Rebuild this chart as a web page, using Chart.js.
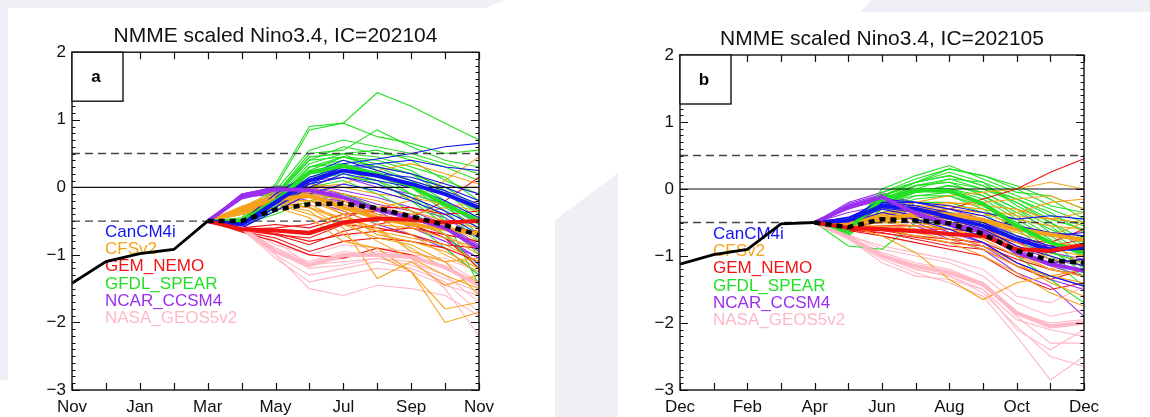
<!DOCTYPE html>
<html>
<head>
<meta charset="utf-8">
<script src="https://cdn.jsdelivr.net/npm/chart.js@4.4.0/dist/chart.umd.min.js"></script>
<style>
  body { margin: 0; width: 1150px; height: 417px; background: #fff; position: relative; overflow: hidden; }
  .bg { position: absolute; background: #eef0f5; }
  .panel { position: absolute; top: 0; width: 560px; height: 417px; }
</style>
</head>
<body>
<div class="bg" style="left:0;top:0;width:8px;height:380px"></div>
<div class="bg" style="left:0;top:0;width:505px;height:8px;clip-path:polygon(0 0,100% 0,96% 100%,0 100%)"></div>
<div class="bg" style="left:860px;top:0;width:290px;height:12px;clip-path:polygon(4% 0,100% 0,100% 100%,0 100%)"></div>
<div class="bg" style="left:555px;top:173px;width:63px;height:244px;clip-path:polygon(0 47px,100% 0,100% 100%,0 100%)"></div>
<div class="panel" style="left:0"><canvas id="chartA" width="560" height="417"></canvas></div>
<div class="panel" style="left:590px"><canvas id="chartB" width="560" height="417"></canvas></div>
<script>
const FONT = '"Liberation Sans", Arial, Helvetica, sans-serif';

const modelNames = ['CanCM4i', 'CFSv2', 'GEM_NEMO', 'GFDL_SPEAR', 'NCAR_CCSM4', 'NASA_GEOS5v2'];
const modelColors = ['#1414f0', '#f7a21b', '#f01414', '#24e024', '#9b2ff0', '#ffb8c6'];
const refLevels = [-0.5, 0, 0.5];

// ---- panel a : IC=202104 ----
const monthsA = ['Nov', 'Dec', 'Jan', 'Feb', 'Mar', 'Apr', 'May', 'Jun', 'Jul', 'Aug', 'Sep', 'Oct', 'Nov'];
const obsA = [-1.42, -1.1, -0.98, -0.92, -0.5];
const nmmeA = [-0.5, -0.5, -0.33, -0.25, -0.24, -0.31, -0.43, -0.56, -0.71];

const canMeanA = [-0.5, -0.55, -0.22, 0.1, 0.25, 0.17, 0.05, -0.1, -0.3];
const cfsMeanA = [-0.5, -0.33, -0.18, -0.12, -0.3, -0.45, -0.55, -0.62, -0.68];
const gemMeanA = [-0.5, -0.62, -0.64, -0.68, -0.52, -0.46, -0.48, -0.52, -0.5];
const gfdlMeanA = [-0.5, -0.5, -0.2, 0.22, 0.32, 0.2, 0.02, -0.25, -0.5];
const ncarMeanA = [-0.5, -0.15, -0.03, -0.04, -0.15, -0.33, -0.45, -0.6, -0.9];
const nasaMeanA = [-0.5, -0.6, -0.95, -1.15, -1.0, -1.0, -1.03, -1.18, -1.45];

const canMembersA = [
  [-0.5, -0.5, -0.1, 0.2, 0.35, 0.42, 0.5, 0.6, 0.65],
  [-0.5, -0.6, -0.3, 0.0, 0.2, 0.1, 0.0, -0.2, -0.45],
  [-0.5, -0.55, -0.2, 0.15, 0.3, 0.3, 0.2, 0.05, -0.1],
  [-0.5, -0.6, -0.35, -0.1, 0.05, -0.05, -0.2, -0.4, -0.7],
  [-0.5, -0.52, -0.15, 0.2, 0.4, 0.25, 0.1, -0.05, -0.25],
  [-0.5, -0.58, -0.25, 0.05, 0.15, 0.05, -0.15, -0.35, -0.6],
  [-0.5, -0.56, -0.3, 0.05, 0.25, 0.2, 0.15, 0.0, -0.2],
  [-0.5, -0.54, -0.2, 0.1, 0.3, 0.35, 0.4, 0.3, 0.25]
];
const cfsMembersA = [
  [-0.5, -0.3, -0.1, 0.0, -0.15, -0.3, -0.2, 0.1, 0.45],
  [-0.5, -0.35, -0.2, -0.25, -0.5, -0.8, -1.05, -1.3, -1.5],
  [-0.5, -0.3, -0.15, -0.05, -0.2, -0.45, -0.7, -1.0, -1.25],
  [-0.5, -0.4, -0.25, -0.35, -0.7, -1.0, -1.25, -2.0, -1.85],
  [-0.5, -0.3, -0.05, 0.05, -0.1, -0.2, -0.35, -0.5, -0.6],
  [-0.5, -0.35, -0.2, -0.3, -0.6, -1.35, -1.1, -1.45, -1.3],
  [-0.5, -0.28, -0.12, 0.0, 0.05, 0.25, 0.35, 0.2, 0.05],
  [-0.5, -0.38, -0.25, -0.4, -0.55, -0.75, -0.85, -1.1, -1.05],
  [-0.5, -0.32, -0.1, -0.1, -0.35, -0.55, -0.6, -0.75, -0.9],
  [-0.5, -0.4, -0.3, -0.45, -0.8, -0.9, -1.25, -1.8, -1.7],
  [-0.5, -0.3, -0.18, -0.2, -0.3, -0.35, -0.45, -0.55, -0.8],
  [-0.5, -0.35, -0.22, -0.15, -0.4, -0.65, -0.9, -1.2, -1.4],
  [-0.5, -0.33, -0.15, -0.1, -0.25, -0.4, -0.5, -0.7, -1.0],
  [-0.5, -0.37, -0.22, -0.3, -0.45, -0.6, -0.95, -1.1, -1.6],
  [-0.5, -0.3, -0.1, 0.05, 0.0, -0.1, -0.15, -0.25, -0.35],
  [-0.5, -0.34, -0.2, -0.2, -0.4, -0.7, -0.8, -0.95, -1.2],
  [-0.5, -0.36, -0.25, -0.3, -0.5, -0.65, -0.75, -0.85, -1.1],
  [-0.5, -0.31, -0.12, -0.08, -0.2, -0.3, -0.4, -0.3, -0.2]
];
const gemMembersA = [
  [-0.5, -0.6, -0.7, -0.85, -0.65, -0.55, -0.45, -0.2, 0.15],
  [-0.5, -0.65, -0.75, -0.95, -0.8, -0.75, -0.8, -0.9, -1.1],
  [-0.5, -0.62, -0.6, -0.55, -0.4, -0.35, -0.45, -0.6, -0.65],
  [-0.5, -0.66, -0.8, -1.0, -1.05, -0.9, -1.0, -1.2, -1.45],
  [-0.5, -0.6, -0.55, -0.6, -0.45, -0.3, -0.3, -0.4, -0.35],
  [-0.5, -0.64, -0.7, -0.75, -0.55, -0.6, -0.7, -0.85, -0.9],
  [-0.5, -0.63, -0.68, -0.8, -0.7, -0.65, -0.6, -0.7, -0.8],
  [-0.5, -0.61, -0.62, -0.65, -0.5, -0.45, -0.55, -0.75, -1.2]
];
const gfdlMembersA = [
  [-0.5, -0.45, 0.05, 0.9, 0.95, 1.4, 1.2, 0.95, 0.7],
  [-0.5, -0.5, 0.0, 0.85, 0.95, 0.75, 0.65, 0.5, 0.55],
  [-0.5, -0.48, -0.1, 0.5, 0.55, 0.85, 0.6, 0.4, 0.3],
  [-0.5, -0.5, -0.15, 0.45, 0.5, 0.45, 0.3, 0.15, -0.2],
  [-0.5, -0.52, -0.2, 0.3, 0.4, 0.3, 0.1, -0.2, -0.55],
  [-0.5, -0.5, -0.25, 0.2, 0.3, 0.15, 0.0, -0.35, -0.8],
  [-0.5, -0.55, -0.3, 0.1, 0.2, 0.05, -0.15, -0.5, -1.0],
  [-0.5, -0.5, -0.2, 0.25, 0.45, 0.35, 0.2, -0.1, -0.35],
  [-0.5, -0.53, -0.35, 0.0, 0.1, -0.1, -0.35, -0.7, -1.2],
  [-0.5, -0.5, -0.28, 0.15, 0.25, 0.2, -0.1, -0.45, -1.45],
  [-0.5, -0.47, -0.1, 0.4, 0.6, 0.5, 0.45, 0.3, 0.1],
  [-0.5, -0.5, -0.25, 0.3, 0.35, 0.2, 0.05, -0.3, -0.6],
  [-0.5, -0.55, -0.4, -0.2, -0.1, -0.3, -0.5, -0.9, -1.3],
  [-0.5, -0.5, -0.18, 0.35, 0.5, 0.25, 0.1, -0.05, -0.4],
  [-0.5, -0.48, -0.05, 0.55, 0.7, 0.6, 0.5, 0.35, 0.2],
  [-0.5, -0.5, -0.15, 0.4, 0.45, 0.3, 0.2, 0.0, -0.3],
  [-0.5, -0.52, -0.22, 0.3, 0.45, 0.4, 0.25, -0.05, -0.5],
  [-0.5, -0.49, -0.1, 0.45, 0.5, 0.55, 0.4, 0.1, -0.1],
  [-0.5, -0.51, -0.3, 0.05, 0.15, 0.1, -0.2, -0.55, -0.9],
  [-0.5, -0.5, -0.2, 0.2, 0.25, 0.1, -0.1, -0.25, -0.7]
];
const ncarMembersA = [
  [-0.5, -0.1, 0.0, 0.05, -0.05, -0.15, -0.3, -0.45, -0.75],
  [-0.5, -0.15, -0.05, -0.1, -0.25, -0.45, -0.55, -0.75, -1.05],
  [-0.5, -0.1, 0.0, 0.1, 0.15, 0.0, -0.1, -0.25, -0.55],
  [-0.5, -0.15, -0.1, -0.2, -0.35, -0.55, -0.7, -0.9, -1.3],
  [-0.5, -0.12, 0.02, 0.0, -0.1, -0.3, -0.4, -0.6, -0.95],
  [-0.5, -0.14, -0.08, -0.15, -0.2, -0.4, -0.5, -0.7, -1.15],
  [-0.5, -0.11, -0.02, -0.05, -0.1, -0.25, -0.35, -0.55, -0.85],
  [-0.5, -0.13, -0.06, -0.08, -0.2, -0.35, -0.6, -0.8, -1.05]
];
const nasaMembersA = [
  [-0.5, -0.6, -0.95, -1.2, -1.15, -1.05, -1.1, -1.3, -1.7],
  [-0.5, -0.62, -1.0, -1.5, -1.6, -1.45, -1.5, -1.6, -1.9],
  [-0.5, -0.58, -0.85, -1.0, -0.85, -0.9, -0.95, -1.1, -1.4],
  [-0.5, -0.6, -0.9, -1.1, -0.95, -1.0, -1.05, -1.5, -2.2],
  [-0.5, -0.55, -0.8, -1.15, -1.05, -0.95, -1.0, -1.05, -1.25],
  [-0.5, -0.62, -1.05, -1.4, -1.3, -1.2, -1.25, -1.45, -1.6],
  [-0.5, -0.59, -0.9, -1.15, -1.1, -1.05, -1.15, -1.35, -1.55],
  [-0.5, -0.61, -1.0, -1.3, -1.2, -1.1, -1.2, -1.4, -1.85]
];

// ---- panel b : IC=202105 ----
const monthsB = ['Dec', 'Jan', 'Feb', 'Mar', 'Apr', 'May', 'Jun', 'Jul', 'Aug', 'Sep', 'Oct', 'Nov', 'Dec'];
const obsB = [-1.12, -0.98, -0.9, -0.52, -0.5];
const nmmeB = [-0.5, -0.57, -0.45, -0.47, -0.51, -0.67, -0.92, -1.07, -1.1];

const canMeanB = [-0.5, -0.47, -0.25, -0.3, -0.42, -0.55, -0.75, -0.9, -0.88];
const cfsMeanB = [-0.5, -0.52, -0.45, -0.38, -0.38, -0.46, -0.6, -0.68, -0.76];
const gemMeanB = [-0.5, -0.58, -0.6, -0.63, -0.67, -0.7, -0.9, -0.92, -0.83];
const gfdlMeanB = [-0.5, -0.6, -0.15, -0.02, -0.03, -0.22, -0.55, -0.8, -0.95];
const ncarMeanB = [-0.5, -0.27, -0.12, -0.36, -0.52, -0.64, -0.95, -1.12, -1.22];
const nasaMeanB = [-0.5, -0.72, -1.0, -1.15, -1.25, -1.42, -1.85, -2.05, -2.0];

const canMembersB = [
  [-0.5, -0.45, -0.15, -0.2, -0.3, -0.4, -0.6, -0.7, -0.65],
  [-0.5, -0.5, -0.3, -0.4, -0.55, -0.7, -0.95, -1.1, -1.05],
  [-0.5, -0.42, -0.2, -0.25, -0.35, -0.5, -0.75, -0.95, -0.85],
  [-0.5, -0.5, -0.35, -0.45, -0.6, -0.8, -1.1, -1.3, -1.45],
  [-0.5, -0.45, -0.2, -0.2, -0.25, -0.35, -0.45, -0.4, -0.45],
  [-0.5, -0.48, -0.28, -0.35, -0.45, -0.6, -0.85, -1.0, -1.15],
  [-0.5, -0.47, -0.25, -0.3, -0.4, -0.5, -0.7, -0.85, -0.95],
  [-0.5, -0.43, -0.22, -0.28, -0.38, -0.45, -0.55, -0.65, -0.7]
];
const cfsMembersB = [
  [-0.5, -0.45, -0.3, -0.2, -0.1, -0.05, 0.0, 0.1, 0.0],
  [-0.5, -0.55, -0.7, -0.95, -1.35, -1.65, -1.4, -1.3, -1.2],
  [-0.5, -0.5, -0.4, -0.3, -0.25, -0.3, -0.4, -0.45, -0.5],
  [-0.5, -0.52, -0.5, -0.55, -0.6, -0.7, -0.95, -1.2, -1.3],
  [-0.5, -0.48, -0.35, -0.25, -0.2, -0.25, -0.3, -0.45, -0.35],
  [-0.5, -0.55, -0.55, -0.6, -0.7, -0.85, -1.1, -1.4, -1.6],
  [-0.5, -0.5, -0.45, -0.4, -0.35, -0.4, -0.35, -0.2, -0.15],
  [-0.5, -0.53, -0.45, -0.45, -0.5, -0.55, -0.75, -0.9, -1.0],
  [-0.5, -0.5, -0.38, -0.3, -0.3, -0.35, -0.55, -0.65, -0.7],
  [-0.5, -0.55, -0.6, -0.7, -0.8, -1.0, -1.25, -1.55, -1.75],
  [-0.5, -0.47, -0.4, -0.35, -0.4, -0.5, -0.65, -0.8, -0.85],
  [-0.5, -0.52, -0.42, -0.38, -0.45, -0.6, -0.8, -1.05, -1.1],
  [-0.5, -0.5, -0.4, -0.35, -0.3, -0.35, -0.45, -0.55, -0.6],
  [-0.5, -0.54, -0.5, -0.5, -0.55, -0.65, -0.85, -1.0, -1.15],
  [-0.5, -0.49, -0.36, -0.28, -0.22, -0.2, -0.15, -0.1, -0.3],
  [-0.5, -0.56, -0.6, -0.65, -0.75, -0.9, -1.15, -1.3, -1.4],
  [-0.5, -0.51, -0.44, -0.42, -0.45, -0.5, -0.6, -0.7, -0.5],
  [-0.5, -0.53, -0.48, -0.5, -0.6, -0.75, -1.0, -1.2, -0.95]
];
const gemMembersB = [
  [-0.5, -0.55, -0.5, -0.4, -0.3, -0.15, 0.0, 0.25, 0.45],
  [-0.5, -0.6, -0.65, -0.75, -0.85, -0.9, -1.15, -1.35, -1.2],
  [-0.5, -0.58, -0.6, -0.6, -0.6, -0.65, -0.8, -0.85, -0.75],
  [-0.5, -0.62, -0.7, -0.8, -0.9, -1.0, -1.3, -1.5, -1.4],
  [-0.5, -0.57, -0.55, -0.55, -0.6, -0.6, -0.75, -0.8, -0.6],
  [-0.5, -0.6, -0.62, -0.7, -0.75, -0.8, -1.0, -1.1, -1.05],
  [-0.5, -0.59, -0.58, -0.6, -0.65, -0.7, -0.9, -0.95, -0.85],
  [-0.5, -0.61, -0.66, -0.72, -0.8, -0.85, -1.05, -1.2, -1.3]
];
const gfdlMembersB = [
  [-0.5, -0.65, 0.0, 0.2, 0.35, 0.15, -0.05, -0.1, -0.3],
  [-0.5, -0.6, -0.05, 0.15, 0.3, 0.2, 0.0, -0.25, -0.35],
  [-0.5, -0.55, -0.1, 0.1, 0.2, 0.05, -0.2, -0.45, -0.6],
  [-0.5, -0.62, -0.2, 0.05, 0.1, -0.1, -0.35, -0.6, -0.8],
  [-0.5, -0.7, -0.3, -0.1, -0.05, -0.2, -0.5, -0.8, -1.0],
  [-0.5, -0.6, -0.15, 0.0, 0.0, -0.15, -0.45, -0.75, -1.2],
  [-0.5, -0.58, -0.25, -0.05, 0.05, -0.05, -0.3, -0.55, -0.9],
  [-0.5, -0.85, -0.9, -0.5, -0.35, -0.45, -0.75, -1.05, -1.45],
  [-0.5, -0.65, -0.35, -0.2, -0.2, -0.35, -0.7, -1.0, -1.3],
  [-0.5, -0.55, -0.1, 0.05, 0.15, 0.0, -0.15, -0.4, -0.55],
  [-0.5, -0.6, -0.2, -0.1, -0.1, -0.3, -0.6, -0.95, -1.1],
  [-0.5, -0.62, -0.12, 0.1, 0.25, 0.1, -0.25, -0.5, -0.75],
  [-0.5, -0.68, -0.4, -0.3, -0.35, -0.55, -1.0, -1.35, -1.7],
  [-0.5, -0.57, -0.18, -0.05, 0.0, -0.1, -0.4, -0.7, -1.0],
  [-0.5, -0.6, -0.05, 0.1, 0.3, 0.2, 0.05, -0.15, -0.45],
  [-0.5, -0.58, -0.1, 0.1, 0.2, 0.05, -0.15, -0.35, -0.65],
  [-0.5, -0.63, -0.2, -0.05, 0.05, -0.05, -0.3, -0.65, -0.95],
  [-0.5, -0.61, -0.25, 0.0, 0.15, 0.1, -0.1, -0.3, -0.5],
  [-0.5, -0.66, -0.3, -0.15, -0.1, -0.25, -0.55, -0.9, -1.25],
  [-0.5, -0.59, -0.15, 0.05, 0.1, 0.0, -0.2, -0.5, -0.85]
];
const ncarMembersB = [
  [-0.5, -0.2, -0.05, -0.25, -0.4, -0.5, -0.8, -0.95, -1.05],
  [-0.5, -0.3, -0.15, -0.45, -0.65, -0.8, -1.1, -1.3, -1.45],
  [-0.5, -0.25, -0.1, -0.3, -0.45, -0.55, -0.9, -1.1, -1.25],
  [-0.5, -0.35, -0.25, -0.55, -0.75, -0.9, -1.25, -1.45, -1.9],
  [-0.5, -0.22, -0.08, -0.2, -0.3, -0.45, -0.7, -0.85, -0.95],
  [-0.5, -0.28, -0.18, -0.5, -0.7, -0.85, -1.15, -1.35, -1.5],
  [-0.5, -0.26, -0.12, -0.35, -0.55, -0.65, -0.95, -1.15, -1.3],
  [-0.5, -0.24, -0.1, -0.28, -0.5, -0.6, -0.85, -1.05, -1.15]
];
const nasaMembersB = [
  [-0.5, -0.7, -0.95, -1.1, -1.2, -1.4, -1.9, -2.3, -2.3],
  [-0.5, -0.75, -1.05, -1.25, -1.4, -1.6, -2.2, -2.85, -2.5],
  [-0.5, -0.68, -0.9, -1.0, -1.1, -1.3, -1.7, -1.9, -1.8],
  [-0.5, -0.72, -1.0, -1.2, -1.3, -1.55, -2.05, -2.5, -2.65],
  [-0.5, -0.7, -0.85, -0.95, -1.05, -1.2, -1.6, -1.7, -1.45],
  [-0.5, -0.74, -1.1, -1.3, -1.35, -1.5, -1.95, -2.1, -2.2],
  [-0.5, -0.71, -0.98, -1.15, -1.25, -1.45, -1.85, -2.0, -1.95],
  [-0.5, -0.73, -1.02, -1.2, -1.3, -1.5, -2.1, -2.4, -2.1]
];

const FORECAST_START = 4; // forecast lines start at the last observed month

function pad(values, start) {
  return Array(start).fill(null).concat(values);
}

function toMinus(v) {
  return String(v).replace('-', '\u2212');
}

// draw order of the thick model means (last one on top)
const meanOrder = [5, 1, 3, 0, 4, 2];

function buildDatasets(months, obs, nmme, means, members) {
  const ds = [];
  members.forEach((group, m) => {
    group.forEach(vals => {
      ds.push({
        data: pad(vals, FORECAST_START),
        borderColor: modelColors[m],
        borderWidth: 1.1,
        order: 50
      });
    });
  });
  refLevels.forEach(level => {
    ds.push({
      data: months.map(() => level),
      borderColor: level === 0 ? '#111' : '#444',
      borderWidth: level === 0 ? 1.2 : 1.4,
      borderDash: level === 0 ? [] : [8, 5],
      order: 40
    });
  });
  meanOrder.forEach((m, k) => {
    ds.push({
      data: pad(means[m], FORECAST_START),
      borderColor: modelColors[m],
      borderWidth: 4,
      order: 30 - k
    });
  });
  ds.push({ data: pad(nmme, FORECAST_START), borderColor: '#000', borderWidth: 4.5, borderDash: [6, 5], order: 3 });
  ds.push({ data: obs, borderColor: '#000', borderWidth: 2.8, order: 2 });
  return ds;
}

const framePlugin = {
  id: 'frame',
  beforeDatasetsDraw(chart, args, opts) {
    const ctx = chart.ctx, a = chart.chartArea;
    ctx.save();
    ctx.font = '17px ' + FONT;
    ctx.textBaseline = 'middle';
    ctx.textAlign = 'left';
    modelNames.forEach((name, i) => {
      ctx.fillStyle = modelColors[i];
      ctx.fillText(name, a.left + opts.legendX, a.top + opts.legendY + i * 17.3);
    });
    ctx.restore();
  },
  afterDatasetsDraw(chart, args, opts) {
    const ctx = chart.ctx, a = chart.chartArea;
    const xs = chart.scales.x, ys = chart.scales.y;
    ctx.save();
    ctx.strokeStyle = '#111';
    ctx.lineWidth = 1.2;
    ctx.beginPath();
    chart.data.labels.forEach((l, i) => {
      const x = Math.round(xs.getPixelForValue(i)) + 0.5;
      ctx.moveTo(x, a.bottom); ctx.lineTo(x, a.bottom - 7);
      ctx.moveTo(x, a.top); ctx.lineTo(x, a.top + 7);
    });
    for (let k = ys.min * 10; k <= ys.max * 10; k++) {
      const y = Math.round(ys.getPixelForValue(k / 10)) + 0.5;
      const len = k % 10 === 0 ? 8 : 3.5;
      ctx.moveTo(a.left, y); ctx.lineTo(a.left + len, y);
      ctx.moveTo(a.right, y); ctx.lineTo(a.right - len, y);
    }
    ctx.stroke();
    ctx.lineWidth = 1.4;
    ctx.strokeRect(a.left, a.top, a.right - a.left, a.bottom - a.top);
    // panel letter box
    ctx.fillStyle = '#fff';
    ctx.fillRect(a.left, a.top, 51, 49);
    ctx.strokeRect(a.left, a.top, 51, 49);
    ctx.fillStyle = '#000';
    ctx.font = 'bold 17px ' + FONT;
    ctx.textAlign = 'center';
    ctx.textBaseline = 'middle';
    ctx.fillText(opts.letter, a.left + 24, a.top + 25);
    ctx.restore();
  }
};

function makeChart(id, cfg) {
  return new Chart(document.getElementById(id), {
    type: 'line',
    data: {
      labels: cfg.months,
      datasets: buildDatasets(cfg.months, cfg.obs, cfg.nmme, cfg.means, cfg.members)
    },
    plugins: [framePlugin],
    options: {
      responsive: false,
      animation: false,
      events: [],
      elements: { point: { radius: 0 }, line: { tension: 0, borderCapStyle: 'butt' } },
      layout: { padding: { left: 0, right: cfg.padRight, top: 0, bottom: 0 } },
      plugins: {
        legend: { display: false },
        tooltip: { enabled: false },
        title: {
          display: true,
          fullSize: false,
          text: cfg.title,
          color: '#111',
          font: { family: FONT, size: 21, weight: 'normal', lineHeight: 1.2 },
          padding: { top: cfg.titleTop, bottom: cfg.titleBottom }
        },
        frame: { letter: cfg.letter, legendX: 33, legendY: cfg.legendY }
      },
      scales: {
        x: {
          grid: { display: false, drawTicks: false },
          border: { display: false },
          afterFit: s => { s.height = 27; },
          ticks: {
            autoSkip: false,
            maxRotation: 0,
            padding: 7,
            color: '#111',
            font: { family: FONT, size: 17 },
            callback: function (v, i) { return i % 2 === 0 ? this.getLabelForValue(v) : ''; }
          }
        },
        y: {
          min: -3,
          max: 2,
          grid: { display: false, drawTicks: false },
          border: { display: false },
          afterFit: s => { s.width = cfg.yWidth; },
          ticks: {
            stepSize: 1,
            padding: 6,
            color: '#111',
            font: { family: FONT, size: 17 },
            callback: v => toMinus(v)
          }
        }
      }
    }
  });
}

makeChart('chartA', {
  months: monthsA, obs: obsA, nmme: nmmeA,
  means: [canMeanA, cfsMeanA, gemMeanA, gfdlMeanA, ncarMeanA, nasaMeanA],
  members: [canMembersA, cfsMembersA, gemMembersA, gfdlMembersA, ncarMembersA, nasaMembersA],
  title: 'NMME scaled Nino3.4, IC=202104', letter: 'a',
  yWidth: 72, padRight: 81, titleTop: 24, titleBottom: 3, legendY: 180
});

makeChart('chartB', {
  months: monthsB, obs: obsB, nmme: nmmeB,
  means: [canMeanB, cfsMeanB, gemMeanB, gfdlMeanB, ncarMeanB, nasaMeanB],
  members: [canMembersB, cfsMembersB, gemMembersB, gfdlMembersB, ncarMembersB, nasaMembersB],
  title: 'NMME scaled Nino3.4, IC=202105', letter: 'b',
  yWidth: 90, padRight: 66, titleTop: 26.5, titleBottom: 3.3, legendY: 179
});
</script>
</body>
</html>
